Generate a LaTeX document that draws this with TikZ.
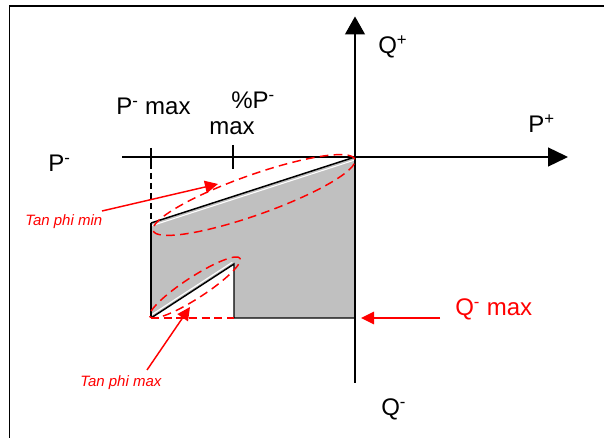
\documentclass[tikz,border=0pt]{standalone}
\usepackage{fontspec}
\setmainfont{Liberation Sans}
\usetikzlibrary{arrows.meta,shapes.geometric}
\definecolor{regiongray}{RGB}{192,192,192}
\begin{document}
\begin{tikzpicture}[x=0.75pt,y=-0.75pt,
  lbl/.style={font=\fontsize{18}{20}\selectfont, inner sep=0, anchor=base west},
  redlbl/.style={lbl, text=red},
  tanlbl/.style={font=\fontsize{11.25}{13}\selectfont\itshape, text=red, inner sep=0, anchor=base west},
  haxis/.style={line width=1pt, -{Triangle[length=15pt,width=14.25pt]}},
  vaxis/.style={line width=1pt, -{Triangle[length=13.5pt,width=15pt]}},
  edgeline/.style={line width=1.1pt, black},
  redarrow/.style={red, line width=1.1pt, -{Triangle[length=9.75pt,width=9.4pt]}},
  redell/.style={ellipse, draw=red, dash pattern=on 6.5pt off 4pt, line width=1.1pt, inner sep=0},
]
\useasboundingbox (0,0) rectangle (604,438);
% frame
\draw[line width=1.2pt] (9.5,438) -- (9.5,6) -- (604,6);
% region corners
\coordinate (A) at (151,223);
\coordinate (O) at (355,157);
\coordinate (B) at (355,318);
\coordinate (C) at (234,318);
\coordinate (D) at (234,264);
\coordinate (E) at (151,318);
\fill[regiongray] (A) -- (O) -- (B) -- (C) -- (D) -- (E) -- cycle;
\draw[white, line width=0.8pt] ([yshift=-2.2pt]A) -- ([yshift=-2.2pt]O);
\draw[white, line width=0.8pt] ([xshift=-1.3pt,yshift=1.3pt]D) -- ([xshift=-1.3pt,yshift=1.3pt]E);
\draw[edgeline] (A) -- (O);
\draw[edgeline] (B) -- (C) -- (D) -- (E);
\draw[black, line width=0.8pt] (E) -- (A);
% axes
\coordinate (xl) at (122,157);
\coordinate (xr) at (568,157);
\coordinate (yb) at (355,383);
\coordinate (yt) at (355,16.5);
\draw[haxis] (xl) -- (xr);
\draw[vaxis] (yb) -- (yt);
% ticks
\coordinate (t1a) at (151,148);
\coordinate (t1b) at (151,163);
\coordinate (t2a) at (233,145);
\coordinate (t2b) at (233,169);
\draw[line width=1pt] (t1a) -- (t1b);
\draw[line width=1pt, dash pattern=on 4.5pt off 3pt] (t1b) -- (A);
\draw[line width=1pt] (t2a) -- (t2b);
% red dashed
\draw[red, line width=1.1pt, dash pattern=on 6pt off 3.5pt] (E) -- (C);
\node[redell, minimum width=160.5pt, minimum height=30pt, rotate=19.5] (ell1) at (254,195) {};
\node[redell, minimum width=80.5pt, minimum height=16pt, rotate=33] (ell2) at (195,287.5) {};
% labels
\node[lbl] (qplus) at (378,54) {Q\textsuperscript{+}};
\node[lbl] (pplus) at (528,132.5) {P\textsuperscript{+}};
\node[lbl] (pminus) at (48,172) {P\textsuperscript{-}};
\node[lbl] (pmax) at (116,115) {P\textsuperscript{-} max};
\node[lbl] (ppct) at (231,109) {\%P\textsuperscript{-}};
\node[lbl] (ppct2) at (209,135) {max};
\node[redlbl] (qmax) at (455,315.5) {Q\textsuperscript{-} max};
\node[lbl] (qminus) at (381,416) {Q\textsuperscript{-}};
\node[tanlbl] (tmin) at (25,226) {Tan phi min};
\node[tanlbl] (tmax) at (80,387) {Tan phi max};
% red arrows
\coordinate (r1s) at (102,211);
\coordinate (r1e) at (218,184);
\coordinate (r2s) at (147,370);
\coordinate (r2e) at (190,307);
\coordinate (r3s) at (440,318);
\coordinate (r3e) at (361,318);
\draw[redarrow] (r1s) -- (r1e);
\draw[redarrow] (r2s) -- (r2e);
\draw[redarrow] (r3s) -- (r3e);
\end{tikzpicture}
\end{document}
